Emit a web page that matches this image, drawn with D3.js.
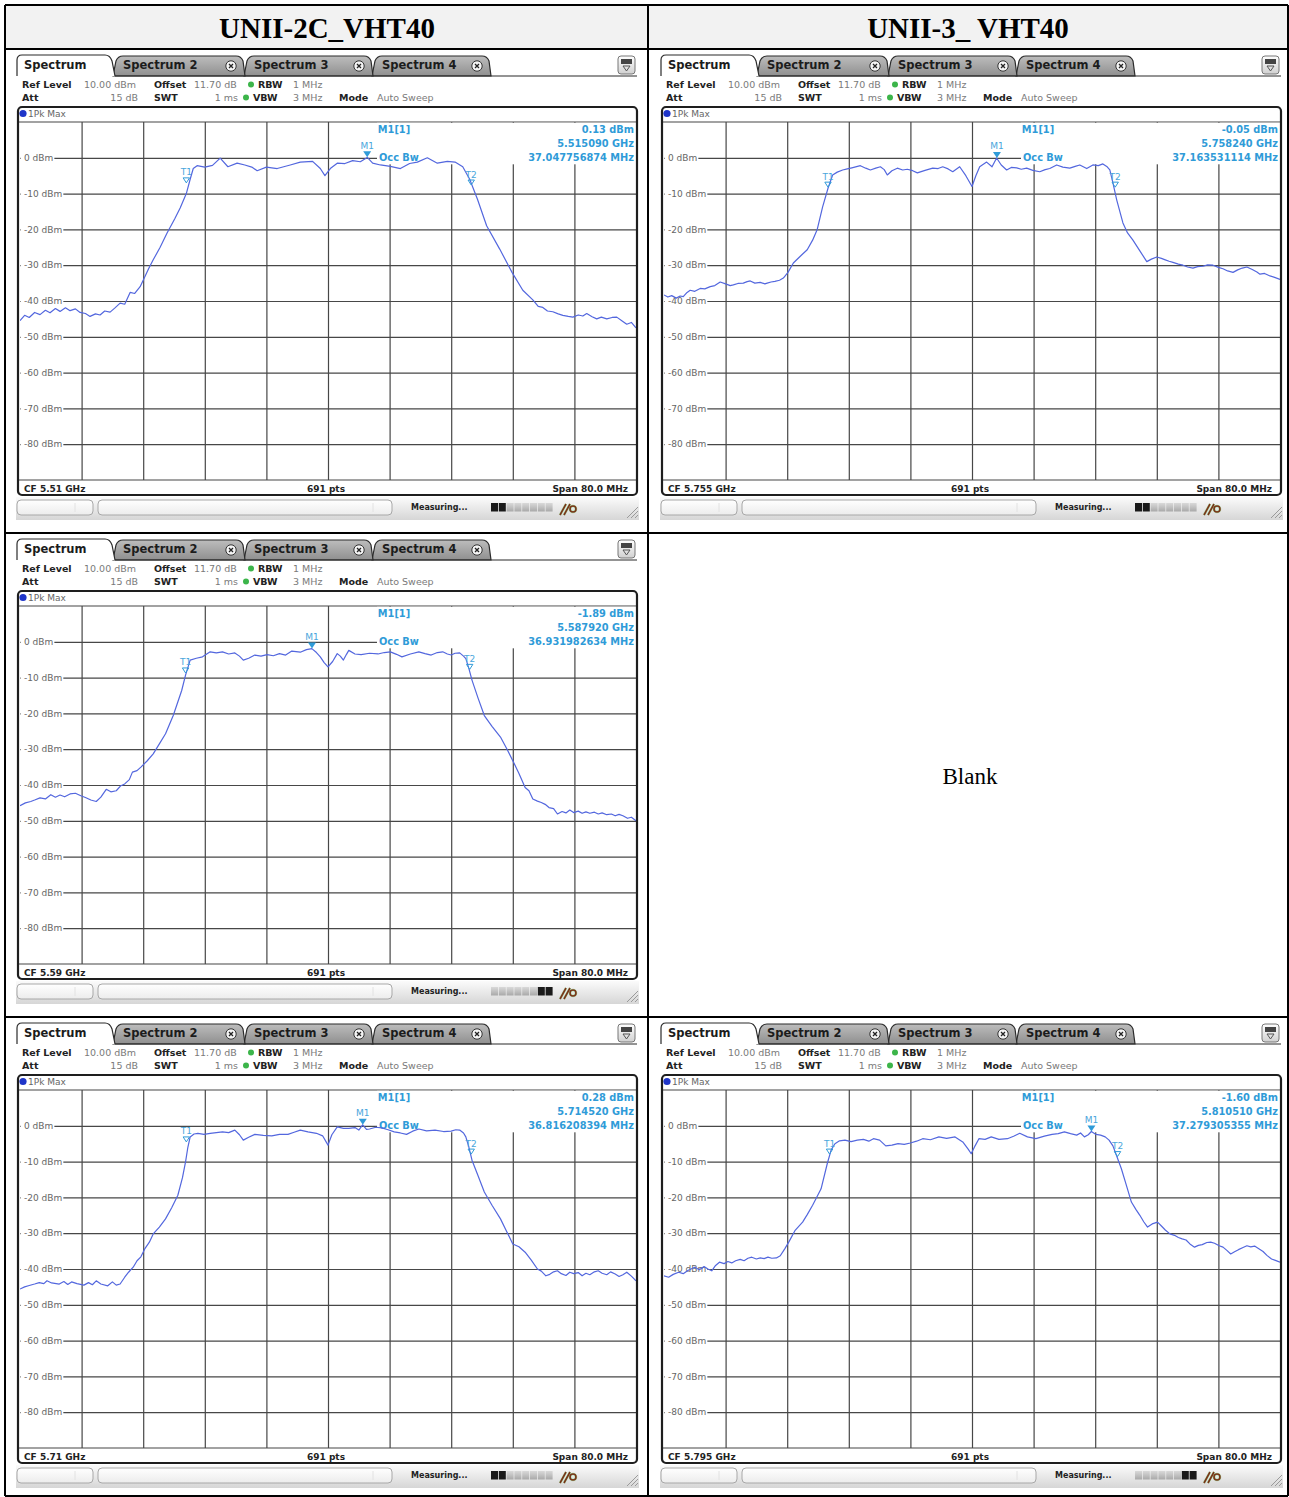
<!DOCTYPE html>
<html>
<head>
<meta charset="utf-8">
<script src="https://cdn.jsdelivr.net/npm/d3@7"></script>
<style>
  body { margin: 0; background: #fff; }
</style>
</head>
<body>
<div id="sheet"></div>
<script>
// table headings
var columnTitles = ["UNII-2C_VHT40", "UNII-3_ VHT40"];
var blankText = "Blank";

// analyzer settings shared by all screenshots
var tabNames = ["Spectrum", "Spectrum 2", "Spectrum 3", "Spectrum 4"];
var dbmTicks = [0, -10, -20, -30, -40, -50, -60, -70, -80];
var freqGrid = [-32, -24, -16, -8, 0, 8, 16, 24, 32];   // MHz from CF
var spanMHz = 80, sweepPts = 691;

// per screenshot, order: 5.51, 5.755, 5.59, 5.71, 5.795
var centerGHz = [5.51, 5.755, 5.59, 5.71, 5.795];
var m1Level = [0.13, -0.05, -1.89, 0.28, -1.60];
var m1GHz = [5.515090, 5.758240, 5.587920, 5.714520, 5.810510];
var occBwMHz = [37.047756874, 37.163531114, 36.931982634, 36.816208394, 37.279305355];
var t1 = [[-18.4, -7], [-18.7, -8.2], [-18.5, -8.7], [-18.4, -4.5], [-18.5, -7.9]];
var t2 = [[18.6, -7.6], [18.6, -8.2], [18.4, -7.7], [18.6, -7.9], [18.9, -8.6]];
var progressDone = [[0, 1], [0, 1], [6, 7], [0, 1], [6, 7]];

// traces: [MHz from CF, dBm]
var trace5510 = [[-40,-45.5],[-39.4,-44],[-38.8,-44.6],[-38.1,-43.2],[-37.4,-43.8],[-36.7,-42.6],[-36.1,-43.3],[-35.4,-42.1],[-34.8,-42.9],[-34.1,-41.9],[-33.5,-42.7],[-32.8,-42.2],[-32.2,-43.2],[-31.5,-43.5],[-30.9,-44.3],[-30.2,-43.6],[-29.6,-43.9],[-29,-42.8],[-28.3,-43.1],[-27.7,-42],[-27,-40.6],[-26.4,-40.9],[-25.7,-37.6],[-25.1,-37.9],[-24.4,-36],[-24,-34.2],[-23.3,-31],[-22.7,-28.5],[-21.8,-25],[-20.9,-21],[-19.9,-17],[-19.2,-14],[-18.4,-10],[-17.9,-6],[-17.5,-3],[-17,-2.2],[-16,-2.6],[-15,-2.1],[-14,-0.1],[-13,-2.5],[-11.8,-1.5],[-10.8,-2],[-9.9,-2.6],[-9.2,-3.6],[-8,-2.6],[-6.6,-3],[-4.9,-2],[-3.6,-1.2],[-2,-1],[-1,-3],[-0.4,-5],[0.3,-3],[1.2,-1.5],[2.2,-1.6],[3.2,-0.8],[4.2,-1.1],[5.1,0.1],[5.8,-1.5],[6.8,-2],[8.1,-2.4],[9.4,-3],[10.6,-1.6],[11.6,-1.2],[12.9,0],[14.2,-1.5],[15.5,-1],[16.5,-1.2],[17.5,-2.5],[18.4,-6],[19.4,-11.5],[20.6,-19],[22.3,-25.5],[23.9,-32],[25.3,-37],[26.6,-39.7],[27.3,-41.5],[27.9,-41.8],[28.5,-42.8],[29.2,-43],[29.9,-43.6],[30.5,-44],[31.2,-44.3],[31.8,-44.5],[32.5,-43.9],[33.1,-44.2],[33.6,-43.5],[34.3,-44.4],[34.9,-45],[35.5,-44.5],[36.2,-45],[36.9,-44.6],[37.5,-44.5],[38.2,-45.6],[38.8,-46.5],[39.4,-46],[40,-47.5]];
var trace5755 = [[-40,-38.3],[-39.5,-38.9],[-39,-38.5],[-38.4,-39.2],[-37.9,-38.6],[-37.5,-38.8],[-37,-37.6],[-36.6,-37],[-36,-37.3],[-35.3,-36.5],[-34.7,-36.6],[-34,-36],[-33.4,-35.7],[-32.7,-34.7],[-32,-35.2],[-31.4,-35.7],[-31,-35.5],[-30.4,-35.1],[-29.7,-35],[-29.2,-34.6],[-28.8,-34.4],[-28.2,-35],[-27.5,-34.8],[-26.9,-35.2],[-26.6,-35],[-26.1,-34.7],[-25.6,-34.5],[-25,-34.2],[-24.5,-33.6],[-23.9,-32],[-23.2,-29.4],[-22.3,-27.5],[-21.4,-25.7],[-20.7,-23],[-20.1,-20],[-19.4,-13.7],[-18.7,-8.5],[-18.1,-4.8],[-17.5,-4],[-16.8,-3.4],[-16.2,-3.1],[-15.6,-2.8],[-14.5,-2.2],[-13.8,-2.9],[-13.2,-3.4],[-12.5,-2.9],[-11.9,-2.5],[-11.4,-3.3],[-11,-4.8],[-10.4,-3.6],[-9.7,-2.9],[-9,-3.4],[-8.4,-3.2],[-7.7,-3.6],[-7.1,-4.2],[-6.1,-3.5],[-5.1,-2.9],[-4.4,-3],[-3.8,-2.5],[-3.1,-3.1],[-2.5,-3.9],[-1.6,-2.5],[-0.8,-5],[0,-8],[0.5,-5],[1,-2.5],[1.9,-1.2],[2.6,-2.5],[3.2,-0.05],[3.8,-2],[4.5,-3.4],[5.1,-2.7],[5.8,-2.8],[6.4,-3.2],[7.1,-2.9],[7.9,-3.5],[8.8,-3.9],[9.5,-3.3],[10.1,-3],[11,-2],[11.8,-2.6],[12.7,-2.9],[13.4,-2.4],[14,-2],[14.9,-3],[15.7,-2],[16.4,-2.2],[17,-1.7],[17.5,-2.4],[17.9,-3.4],[18.3,-7],[18.8,-11.8],[19.6,-18.2],[20.2,-21],[20.9,-23],[21.8,-26],[22.7,-29],[23.3,-28.3],[24,-27.7],[24.6,-28.1],[25.1,-28.5],[25.6,-28.9],[26.1,-29.2],[26.8,-29.7],[27.4,-30],[28,-30.5],[28.7,-30.8],[29.3,-30.4],[30,-30.3],[30.6,-29.9],[31.3,-30],[32,-30.6],[32.6,-31],[33.2,-31.6],[33.9,-32],[34.5,-31.3],[35.1,-30.8],[35.7,-30.5],[36.4,-31.2],[37,-31.9],[37.4,-32.5],[38,-32.3],[38.7,-33],[39.3,-33.4],[40,-34]];
var trace5590 = [[-40,-45.8],[-39.3,-45],[-38.6,-44.6],[-38.1,-44.2],[-37.4,-43.6],[-36.7,-43.9],[-36,-42.7],[-35.4,-43.4],[-34.8,-42.8],[-34.2,-43.3],[-33.5,-42.5],[-32.8,-42.3],[-32.1,-43],[-31.5,-43.5],[-30.8,-44.2],[-30.1,-44.6],[-29.5,-43.4],[-28.8,-41.2],[-28.2,-41.9],[-27.5,-41.6],[-26.9,-40.2],[-26.4,-39.7],[-25.8,-38.5],[-25.4,-36.4],[-24.8,-36],[-24.3,-35],[-23.5,-33.3],[-22.7,-31.3],[-21.9,-28.5],[-21.1,-25.7],[-20.1,-20.6],[-19,-13.6],[-18.5,-9.3],[-17.9,-5.1],[-17.1,-4.6],[-16.3,-4.2],[-15.3,-2.8],[-14.5,-3.1],[-13.7,-2.8],[-12.9,-3.4],[-12.1,-3.1],[-11.5,-4],[-11,-5.1],[-10.3,-4.6],[-9.5,-3.7],[-8.7,-4],[-7.9,-3.6],[-7.1,-3.9],[-6.3,-3.3],[-5.5,-3.7],[-4.7,-2.6],[-3.6,-2.9],[-2.8,-2.2],[-2.1,-1.9],[-1.5,-3],[-1,-4.2],[-0.5,-5.8],[0,-7],[0.6,-5.5],[1.2,-3.3],[1.6,-4],[2,-5.1],[2.4,-3.5],[2.7,-2.4],[3.5,-3.4],[4.3,-3.6],[5.4,-3.2],[6.5,-3.4],[7.3,-3],[8.1,-2.8],[8.9,-3.5],[9.6,-4.2],[10.7,-3.4],[11.8,-2.8],[12.6,-3.3],[13.4,-3.7],[14.2,-3],[14.9,-2.8],[15.5,-3.4],[16,-3.7],[16.5,-3.2],[17.1,-3.1],[17.6,-4],[17.9,-4.7],[18.3,-7.5],[18.7,-10.7],[19.5,-15.8],[20.3,-20.6],[21.3,-23.6],[22.4,-26.6],[23.2,-29.8],[24,-33.2],[24.8,-36.8],[25.6,-40.7],[26.1,-41.6],[26.6,-43.9],[27.2,-44.5],[27.7,-44.9],[28.2,-45.4],[28.7,-46.3],[29.3,-46.6],[29.8,-48.1],[30.4,-47.4],[30.9,-47.8],[31.4,-47],[31.9,-47.7],[32.5,-47.3],[33,-47.9],[33.5,-47.5],[34,-47.9],[34.6,-47.6],[35.1,-48.1],[35.6,-47.8],[36.2,-48.3],[36.8,-48.1],[37.3,-48.6],[37.8,-48.2],[38.3,-48.6],[38.9,-49.3],[39.4,-49],[40,-50]];
var trace5710 = [[-40,-45.6],[-39.4,-45],[-38.8,-44.6],[-38.1,-44.2],[-37.5,-43.8],[-36.9,-44.1],[-36.5,-43.3],[-35.9,-43.9],[-34.9,-44.2],[-34.3,-43.5],[-33.8,-44.3],[-33.3,-43.6],[-32.6,-44.1],[-31.7,-44.5],[-31.1,-43.8],[-30.6,-44.4],[-30.1,-43.3],[-29.5,-44.2],[-28.6,-44.7],[-28,-43.6],[-27.5,-44.5],[-27,-44.2],[-26.4,-42.3],[-25.9,-40.9],[-25.3,-39.5],[-24.8,-37.7],[-24.3,-36.6],[-23.8,-34.4],[-23.2,-32.5],[-22.7,-30.2],[-21.9,-28.3],[-21.1,-26],[-20.3,-22.9],[-19.5,-19.4],[-18.9,-14.5],[-18.5,-10.1],[-18.2,-6],[-17.9,-3.1],[-17.4,-2.3],[-16.9,-2.1],[-16.1,-2.4],[-15.3,-2.1],[-14.5,-1.9],[-13.7,-1.7],[-12.9,-1.9],[-12.1,-1.2],[-11.5,-2.5],[-11,-4],[-10.3,-3.2],[-9.5,-2.4],[-8.4,-2.7],[-7.3,-2.8],[-6.3,-2.4],[-5.2,-2.4],[-4.4,-1.8],[-3.6,-1.2],[-2.6,-1.7],[-1.5,-2.1],[-0.7,-2.8],[0,-5.4],[0.5,-2.5],[1.2,-0.3],[2,-0.7],[2.7,-0.7],[3.5,-0.5],[4,-1.2],[4.5,0.28],[5,-1],[5.4,-0.9],[6.2,-0.4],[7,-0.6],[7.8,-1.1],[8.6,-1.7],[9.4,-2],[10.2,-2.4],[11,-1.5],[11.8,-0.9],[12.8,-1.4],[13.9,-1.2],[15,-1.6],[16,-1.5],[16.6,-1.1],[17.1,-1.2],[17.6,-2],[17.9,-3.1],[18.3,-6],[18.7,-9.6],[19.5,-14],[20.3,-18.5],[21.3,-22.2],[22.4,-26],[23.2,-29.5],[24,-33],[24.8,-33.8],[25.6,-35.3],[26.4,-37.5],[27.2,-40],[27.7,-40.6],[28.3,-41.9],[28.8,-41.5],[29.3,-40.8],[29.8,-40.5],[30.3,-41.3],[30.9,-41.8],[31.4,-40.9],[31.9,-41.3],[32.5,-41],[33,-41.9],[33.5,-41.2],[34,-41.6],[34.6,-40.8],[35.1,-40.5],[35.6,-41.2],[36.2,-41.6],[36.7,-40.8],[37.3,-41.4],[37.8,-42.1],[38.3,-41.6],[38.8,-40.9],[39.4,-42],[40,-43.3]];
var trace5795 = [[-40,-41.9],[-39.4,-42.3],[-38.8,-41.5],[-38.1,-40.9],[-37.5,-41.3],[-36.9,-40.4],[-36,-39.5],[-35.4,-40.2],[-34.8,-39.3],[-34.3,-40],[-33.8,-40.5],[-33.3,-39],[-32.8,-38.1],[-32.2,-38.5],[-31.7,-37.9],[-31.2,-38.3],[-30.7,-37.7],[-30.1,-37.3],[-29.6,-37.7],[-29.1,-37],[-28.6,-36.7],[-28,-37.2],[-27.5,-36.9],[-27,-37.1],[-26.5,-36.7],[-26,-37],[-25.4,-36.9],[-24.9,-36.3],[-24.3,-34.3],[-23.8,-32.5],[-23,-29.3],[-22,-26.9],[-21.4,-24.8],[-20.7,-22.2],[-19.6,-17.6],[-18.8,-10.6],[-18.3,-6.8],[-17.8,-5],[-17.2,-4.2],[-16.5,-4],[-15.7,-4.4],[-14.9,-4],[-14.1,-3.8],[-13.4,-4.3],[-12.8,-3.6],[-12,-4],[-11.2,-5.6],[-10.4,-5.4],[-9.6,-5],[-8.8,-5.2],[-8,-4.8],[-7.2,-4.3],[-6.4,-3.6],[-5.4,-3.9],[-4.3,-3.1],[-3.3,-3.5],[-2.2,-3.1],[-1.2,-4.5],[-0.5,-6.5],[-0.1,-7.8],[0.4,-5.6],[0.9,-3.6],[1.7,-3.8],[2.5,-3.1],[3.5,-3.8],[4.6,-3.6],[5.4,-2.9],[6.2,-2.1],[7.2,-3.1],[8.3,-3.6],[9.4,-2.9],[10.4,-2.4],[11.2,-2.2],[12,-1.7],[12.8,-2.2],[13.6,-2.6],[14.1,-2],[14.6,-3.1],[15.1,-2.5],[15.5,-1.6],[16.1,-2.4],[16.7,-2.6],[17.3,-3.1],[17.8,-4],[18.3,-5.6],[18.6,-7.3],[19.4,-12],[20.1,-17],[20.7,-21.3],[21.3,-23.4],[21.8,-25],[22.3,-26.8],[22.8,-28.3],[23.4,-27.4],[24.1,-26.9],[24.6,-28],[25.1,-29.1],[25.7,-30.2],[26.3,-30.6],[26.8,-31.2],[27.3,-31.6],[27.8,-31.9],[28.3,-33],[28.9,-33.9],[29.4,-33.4],[29.9,-33.2],[30.5,-32.6],[31,-32.5],[31.5,-32.8],[32.1,-33.5],[32.6,-33.9],[33.1,-34.8],[33.6,-35.8],[34.1,-35.2],[34.6,-34.6],[35.2,-34],[35.7,-33.5],[36.2,-33.8],[36.7,-33.6],[37.3,-34.4],[37.8,-35.1],[38.3,-36.2],[38.9,-37.2],[39.4,-37.6],[40,-38.1]];
var traces = [trace5510, trace5755, trace5590, trace5710, trace5795];

var markerBlue = "#2f9bd8", traceBlue = "#5367de", gridColor = "#474747";

var svg = d3.select("#sheet").append("svg")
    .attr("width", 1289).attr("height", 1497)
    .style("font-family", "'DejaVu Sans', sans-serif");

var defs = svg.append("defs");
function vGrad(id, stops) {
  var g = defs.append("linearGradient").attr("id", id).attr("x1", 0).attr("y1", 0).attr("x2", 0).attr("y2", 1);
  stops.forEach(function (s) { g.append("stop").attr("offset", s[0]).attr("stop-color", s[1]); });
}
vGrad("tabGrad", [[0, "#bdbdbd"], [1, "#8f8f8f"]]);
vGrad("statusGrad", [[0, "#fbfbfb"], [1, "#d6d6d6"]]);
vGrad("boxGrad", [[0, "#ffffff"], [1, "#ececec"]]);
vGrad("segGrad", [[0, "#d9d9d9"], [1, "#a9a9a9"]]);
vGrad("iconGrad", [[0, "#ffffff"], [1, "#d0d0d0"]]);

// table: header shading, grid lines, titles
svg.append("rect").attr("x", 5).attr("y", 5).attr("width", 1283).attr("height", 44).attr("fill", "#f2f2f2");
[5, 49, 533, 1017, 1496].forEach(function (yy) {
  svg.append("line").attr("x1", 5).attr("x2", 1288).attr("y1", yy).attr("y2", yy)
     .attr("stroke", "#000").attr("stroke-width", 2);
});
[5, 648, 1288].forEach(function (xx) {
  svg.append("line").attr("x1", xx).attr("x2", xx).attr("y1", 5).attr("y2", 1496)
     .attr("stroke", "#000").attr("stroke-width", 2);
});
svg.selectAll("text.title").data(columnTitles).enter().append("text")
   .attr("class", "title")
   .attr("x", function (d, i) { return i === 0 ? 327 : 968; })
   .attr("y", 38)
   .attr("text-anchor", "middle")
   .attr("font-family", "'Liberation Serif', 'Times New Roman', serif")
   .attr("font-weight", "bold").attr("font-size", "29px")
   .text(function (d) { return d; });
svg.append("text").attr("x", 970).attr("y", 784).attr("text-anchor", "middle")
   .attr("font-family", "'Liberation Serif', 'Times New Roman', serif")
   .attr("font-size", "23px").text(blankText);

function label(g, x, y, txt, opt) {
  opt = opt || {};
  return g.append("text").attr("x", x).attr("y", y)
    .attr("font-size", opt.size || "9.5px")
    .attr("font-weight", opt.bold ? "bold" : "normal")
    .attr("fill", opt.fill || "#222")
    .attr("text-anchor", opt.anchor || "start")
    .text(txt);
}

function drawPanel(i, ox, oy) {
  var p = svg.append("g").attr("transform", "translate(" + ox + "," + oy + ")");
  var x = d3.scaleLinear().domain([-spanMHz / 2, spanMHz / 2]).range([3, 619]);
  var y = d3.scaleLinear().domain([10, -90]).range([68, 426]);

  // ---- tab bar
  var tabStart = [0, 96, 227, 355], tabEnd = [97, 228, 356, 474];
  for (var k = tabNames.length - 1; k >= 1; k--) {
    var s = tabStart[k], e = tabEnd[k];
    p.append("path")
     .attr("d", "M" + s + ",22 L" + (s + 3) + ",7 Q" + (s + 5) + ",2 " + (s + 10) + ",2 L" + (e - 9) + ",2 Q" + (e - 4) + ",2 " + (e - 2) + ",7 L" + e + ",22 Z")
     .attr("fill", "url(#tabGrad)").attr("stroke", "#2b2b2b").attr("stroke-width", 1.2);
    label(p, s + 10, 15, tabNames[k], { size: "11.5px", bold: true, fill: "#1c1c1c" });
    var cx = e - 14;
    p.append("circle").attr("cx", cx).attr("cy", 12).attr("r", 5.2)
     .attr("fill", "#f4f4f4").attr("stroke", "#333").attr("stroke-width", 1);
    p.append("path").attr("d", "M" + (cx - 2) + ",10 L" + (cx + 2) + ",14 M" + (cx + 2) + ",10 L" + (cx - 2) + ",14")
     .attr("stroke", "#222").attr("stroke-width", 1.3);
  }
  p.append("path").attr("d", "M0,22 L0,6 Q0,1 5,1 L88,1 Q93,1 95,7 L98,22")
   .attr("fill", "#fff").attr("stroke", "#2b2b2b").attr("stroke-width", 1.2);
  label(p, 7, 15, tabNames[0], { size: "11.5px", bold: true, fill: "#1c1c1c" });
  p.append("line").attr("x1", 98).attr("x2", 620).attr("y1", 22).attr("y2", 22)
   .attr("stroke", "#2b2b2b").attr("stroke-width", 1.2);
  // small window icon at the right of the tab bar
  p.append("rect").attr("x", 601).attr("y", 2).attr("width", 17).attr("height", 18).attr("rx", 3)
   .attr("fill", "url(#iconGrad)").attr("stroke", "#777");
  p.append("rect").attr("x", 604).attr("y", 5).attr("width", 11).attr("height", 5).attr("fill", "#444");
  p.append("path").attr("d", "M606,12 L613,12 L609.5,17 Z").attr("fill", "none").attr("stroke", "#555");

  // ---- settings lines
  var gray = "#7a7a7a";
  label(p, 5, 33.5, "Ref Level", { bold: true });
  label(p, 67, 33.5, "10.00 dBm", { fill: gray });
  label(p, 137, 33.5, "Offset", { bold: true });
  label(p, 177, 33.5, "11.70 dB", { fill: gray });
  p.append("circle").attr("cx", 234).attr("cy", 30.5).attr("r", 3).attr("fill", "#3cb54a");
  label(p, 241, 33.5, "RBW", { bold: true });
  label(p, 276, 33.5, "1 MHz", { fill: gray });
  label(p, 5, 46.5, "Att", { bold: true });
  label(p, 121, 46.5, "15 dB", { fill: gray, anchor: "end" });
  label(p, 137, 46.5, "SWT", { bold: true });
  label(p, 221, 46.5, "1 ms", { fill: gray, anchor: "end" });
  p.append("circle").attr("cx", 229).attr("cy", 43.5).attr("r", 3).attr("fill", "#3cb54a");
  label(p, 236, 46.5, "VBW", { bold: true });
  label(p, 276, 46.5, "3 MHz", { fill: gray });
  label(p, 322, 46.5, "Mode", { bold: true });
  label(p, 360, 46.5, "Auto Sweep", { fill: gray });

  // ---- plot frame background and trace header
  p.append("rect").attr("x", 1).attr("y", 53).attr("width", 619).attr("height", 388).attr("fill", "#fff");
  p.append("circle").attr("cx", 6).attr("cy", 59.5).attr("r", 3.6).attr("fill", "#1f35c9");
  label(p, 11, 63, "1Pk Max", { fill: "#666", size: "9px" });

  // ---- grid
  var gx = p.append("g").attr("transform", "translate(0," + y(-90) + ")")
    .call(d3.axisBottom(x).tickValues(freqGrid).tickSize(-(y(-90) - y(10))).tickFormat(""));
  gx.select(".domain").remove();
  gx.selectAll("line").attr("stroke", gridColor).attr("stroke-width", 1.2);
  var gy = p.append("g").attr("transform", "translate(" + x(-40) + ",0)")
    .call(d3.axisRight(y).tickValues(dbmTicks).tickSize(x(40) - x(-40)).tickFormat(""));
  gy.select(".domain").remove();
  gy.selectAll("line").attr("stroke", gridColor).attr("stroke-width", 1.2);
  [10, -90].forEach(function (v) {
    p.append("line").attr("x1", 1).attr("x2", 620).attr("y1", y(v)).attr("y2", y(v))
     .attr("stroke", gridColor).attr("stroke-width", 1.2);
  });

  // level labels sit on the grid lines with a white backing
  dbmTicks.forEach(function (v) {
    var t = label(p, 7, y(v) + 3.2, v + " dBm", { fill: "#666", size: "9px" });
    var w = t.node().getComputedTextLength();
    p.insert("rect", function () { return t.node(); })
     .attr("x", 3.6).attr("y", y(v) - 5).attr("width", w + 4.5).attr("height", 10).attr("fill", "#fff");
  });

  // marker readout box
  p.append("rect").attr("x", 360).attr("y", y(10) + 0.8).attr("width", x(40) - 360).attr("height", 41.5).attr("fill", "#fff");
  label(p, 377, 79, "M1[1]", { fill: markerBlue, bold: true, size: "9.8px", anchor: "middle" });
  label(p, 617, 79, m1Level[i].toFixed(2) + " dBm", { fill: markerBlue, bold: true, size: "9.8px", anchor: "end" });
  label(p, 617, 93, m1GHz[i].toFixed(6) + " GHz", { fill: markerBlue, bold: true, size: "9.8px", anchor: "end" });
  label(p, 617, 107, occBwMHz[i].toFixed(9) + " MHz", { fill: markerBlue, bold: true, size: "9.8px", anchor: "end" });
  label(p, 362, 107, "Occ Bw", { fill: markerBlue, bold: true, size: "9.8px" });

  // ---- trace
  p.append("clipPath").attr("id", "clip" + i).append("rect")
   .attr("x", x(-40)).attr("y", y(10)).attr("width", x(40) - x(-40)).attr("height", y(-90) - y(10));
  var line = d3.line().x(function (d) { return x(d[0]); }).y(function (d) { return y(d[1]); });
  p.append("path").datum(traces[i]).attr("d", line)
   .attr("clip-path", "url(#clip" + i + ")")
   .attr("fill", "none").attr("stroke", traceBlue).attr("stroke-width", 1.2).attr("stroke-linejoin", "round");

  // ---- markers
  var m1x = x((m1GHz[i] - centerGHz[i]) * 1000), m1y = y(m1Level[i]);
  p.append("path").attr("d", "M" + (m1x - 4) + "," + (m1y - 6) + " L" + (m1x + 4) + "," + (m1y - 6) + " L" + m1x + "," + m1y + " Z")
   .attr("fill", markerBlue);
  label(p, m1x, m1y - 8.5, "M1", { fill: "#4aa6dc", size: "9px", anchor: "middle" });
  [["T1", t1[i]], ["T2", t2[i]]].forEach(function (m) {
    var tx = x(m[1][0]), ty = y(m[1][1]);
    p.append("path").attr("d", "M" + (tx - 3.2) + "," + (ty - 5) + " L" + (tx + 3.2) + "," + (ty - 5) + " L" + tx + "," + ty + " Z")
     .attr("fill", "none").attr("stroke", markerBlue).attr("stroke-width", 1);
    label(p, tx, ty - 7.5, m[0], { fill: "#4aa6dc", size: "9px", anchor: "middle" });
  });

  // ---- bottom labels and frame
  label(p, 7, 437.5, "CF " + centerGHz[i] + " GHz", { bold: true, size: "9px" });
  label(p, 309, 437.5, sweepPts + " pts", { bold: true, size: "9px", anchor: "middle" });
  label(p, 611, 437.5, "Span " + spanMHz.toFixed(1) + " MHz", { bold: true, size: "9px", anchor: "end" });
  p.append("rect").attr("x", 1).attr("y", 53).attr("width", 619).attr("height", 388).attr("rx", 4)
   .attr("fill", "none").attr("stroke", "#1e1e1e").attr("stroke-width", 2.2);

  // ---- status bar
  p.append("rect").attr("x", -1).attr("y", 443).attr("width", 623).attr("height", 23).attr("fill", "url(#statusGrad)");
  p.append("rect").attr("x", 0).attr("y", 446).attr("width", 76).attr("height", 15).attr("rx", 4)
   .attr("fill", "url(#boxGrad)").attr("stroke", "#a8a8a8");
  p.append("rect").attr("x", 81).attr("y", 446).attr("width", 294).attr("height", 15).attr("rx", 4)
   .attr("fill", "url(#boxGrad)").attr("stroke", "#a8a8a8");
  [[58, 449, 458], [356, 449, 458]].forEach(function (l) {
    p.append("line").attr("x1", l[0]).attr("x2", l[0]).attr("y1", l[1]).attr("y2", l[2]).attr("stroke", "#e2e2e2");
  });
  label(p, 394, 456, "Measuring...", { bold: true, size: "8px", fill: "#222" });
  d3.range(8).forEach(function (sIdx) {
    var on = progressDone[i].indexOf(sIdx) >= 0;
    p.append("rect").attr("x", 474 + sIdx * 7.8).attr("y", 449).attr("width", 7).attr("height", 8.5)
     .attr("fill", on ? "#1a1a1a" : "url(#segGrad)");
  });
  p.append("path").attr("d", "M543,461 L549,450 M547,461 L553,450 M553,455 A3,3 0 1 1 559,455 A3,3 0 1 1 553,455")
   .attr("fill", "none").attr("stroke", "#7fd27f").attr("stroke-width", 2.6).attr("opacity", 0.6);
  p.append("path").attr("d", "M543,461 L549,450 M547,461 L553,450 M553,455 A3,3 0 1 1 559,455 A3,3 0 1 1 553,455")
   .attr("fill", "none").attr("stroke", "#7a3418").attr("stroke-width", 1.6);
  [[610, 464, 621, 453], [614, 464, 621, 457], [618, 464, 621, 461]].forEach(function (l) {
    p.append("line").attr("x1", l[0]).attr("y1", l[1]).attr("x2", l[2]).attr("y2", l[3])
     .attr("stroke", "#9a9a9a").attr("stroke-width", 1);
  });
}

// screenshot positions inside the table cells
var panelOrigins = [[17, 54], [661, 54], [17, 538], [17, 1022], [661, 1022]];
panelOrigins.forEach(function (o, i) { drawPanel(i, o[0], o[1]); });
</script>
</body>
</html>
